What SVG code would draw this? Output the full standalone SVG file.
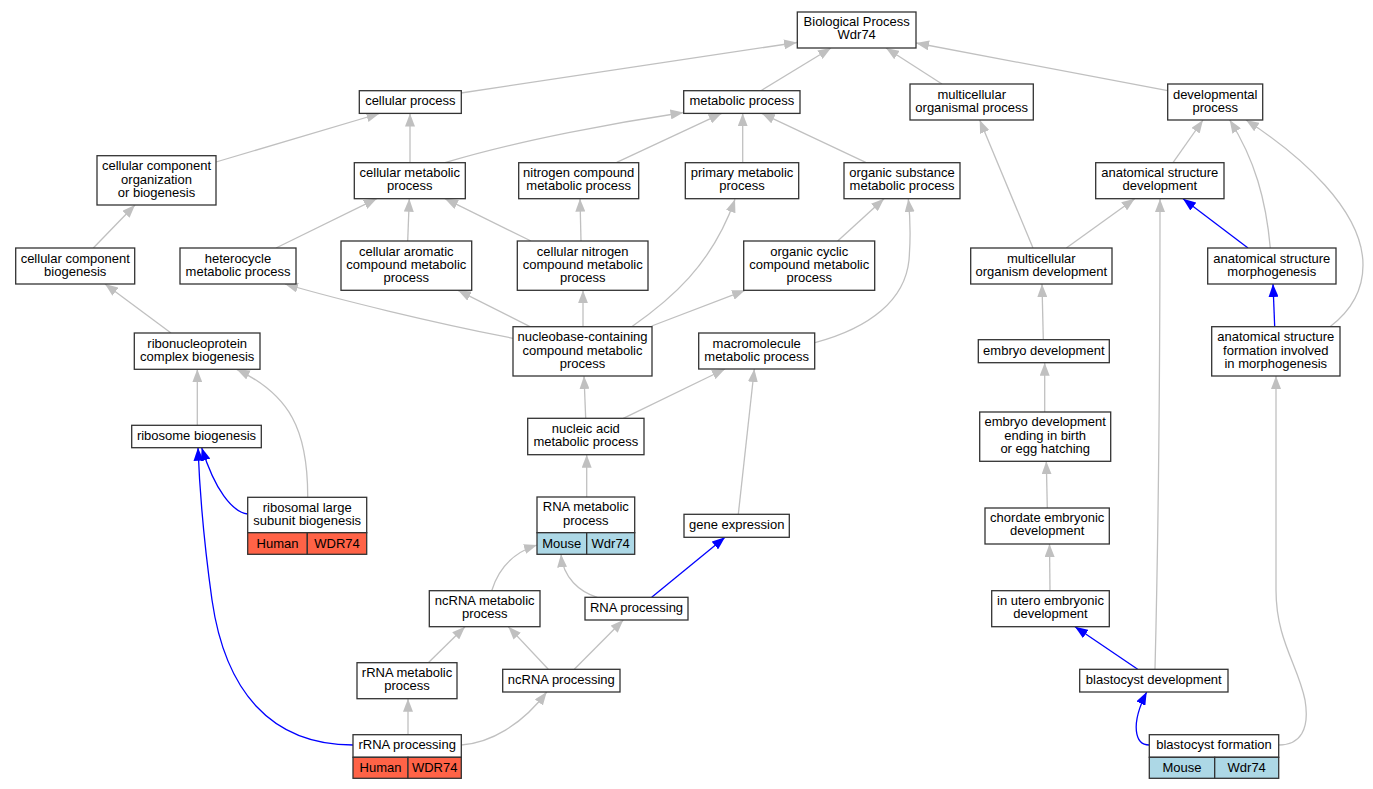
<svg xmlns="http://www.w3.org/2000/svg" width="1373" height="789" viewBox="0 0 1373 789">
<style>
.n rect{fill:#fff;stroke:#333;stroke-width:1.3}
.n rect.h{fill:#ff6347}
.n rect.m{fill:#add8e6}
text{font-family:"Liberation Sans",Arial,sans-serif;font-size:13px;fill:#000;text-anchor:middle}
.e path{fill:none;stroke:#c0c0c0;stroke-width:1.3;marker-end:url(#ag)}
.e path.b{stroke:#0000ff;marker-end:url(#ab)}
</style>
<defs>
<marker id="ag" viewBox="0 0 13 10" refX="13" refY="5" markerWidth="13" markerHeight="10" orient="auto" markerUnits="userSpaceOnUse"><path d="M0,0L13,5L0,10z" fill="#c0c0c0"/></marker>
<marker id="ab" viewBox="0 0 13 10" refX="13" refY="5" markerWidth="13" markerHeight="10" orient="auto" markerUnits="userSpaceOnUse"><path d="M0,0L13,5L0,10z" fill="#0000ff"/></marker>
</defs>
<rect width="1373" height="789" fill="#fff"/>
<g id="edges" class="e">
<path d="M461,93L797,42.5"/>
<path d="M761,90.7L831,48"/>
<path d="M942,84L886,48"/>
<path d="M1167.7,90.7L916,43"/>
<path d="M216,162L379.5,113.5"/>
<path d="M410,162.7L410,113.5"/>
<path d="M445,162.7C520,140 620,122 683.5,112.5"/>
<path d="M616.7,162.3L721.7,113.3"/>
<path d="M742.7,162.7L742.7,113.3"/>
<path d="M865.7,162.3L761.7,113.3"/>
<path d="M93.3,248L135,205"/>
<path d="M276,248L376.7,198.7"/>
<path d="M407.7,241L409.3,198.7"/>
<path d="M531,241L445,198.7"/>
<path d="M581,241L580,198.7"/>
<path d="M837.7,241L884,198.7"/>
<path d="M1033,248L979.7,120"/>
<path d="M1173,162.7L1203,120"/>
<path d="M1270.3,248C1266,200 1255,160 1229.7,120"/>
<path d="M1330,326.7C1352,310 1363,290 1363,265C1363,210 1300,155 1246,120"/>
<path d="M1066.3,248L1134.7,198.7"/>
<path d="M1155,669.3C1158,550 1160,350 1160,199"/>
<path class="b" d="M1248,248L1183,198.7"/>
<path class="b" d="M1274.7,326.7L1273,284"/>
<path d="M171,333L105,284"/>
<path d="M513,338.3C430,322 340,300 285,284"/>
<path d="M530,326.7L458,290.3"/>
<path d="M583,326.7L583,290.3"/>
<path d="M631.7,326.7C670,300 712,265 735,199.3"/>
<path d="M651.7,326L745,290.3"/>
<path d="M815,342.7C870,328 905,300 909,260C911,235 910,215 908.3,199"/>
<path d="M197.3,425.3L197.3,369.3"/>
<path d="M307.7,497.3C308,430 290,395 236.7,369.3"/>
<path class="b" d="M247.7,514C232,512 215,490 201.7,447.7"/>
<path class="b" d="M353,745C270,745 225,690 212,600C205,550 200,500 198,447.7"/>
<path d="M585.7,418.3L584,376"/>
<path d="M623.3,418.3L725,369"/>
<path d="M586.7,497L586.7,454.7"/>
<path d="M738.3,514.3L754.3,369"/>
<path d="M491.7,590.7C498,570 512,553 537,545"/>
<path d="M597.3,597.3C580,592 563,578 561,554.3"/>
<path class="b" d="M651.7,597.3L725,537.3"/>
<path d="M428.3,662.7L465,626.7"/>
<path d="M548.3,669.3L508.3,626.7"/>
<path d="M574.3,669.3L623.3,620"/>
<path d="M408,734.7L408,698.7"/>
<path d="M461.3,745C490,743 522,725 546.7,692"/>
<path d="M1043.3,339.7L1042,284"/>
<path d="M1044.7,412L1044.7,362.7"/>
<path d="M1047.3,508L1046.3,461.3"/>
<path d="M1050,590.7L1049.5,544"/>
<path class="b" d="M1137.7,669.3L1075,626.7"/>
<path class="b" d="M1149.3,745C1135,745 1130,725 1146.7,692"/>
<path d="M1278.7,745C1300,745 1310,730 1305,700C1298,665 1276,640 1276,590L1276,376"/>
</g>
<g id="bp" class="n"><rect x="797.3" y="12" width="118.7" height="36"/><text x="856.7" y="26">Biological Process</text><text x="856.7" y="39">Wdr74</text></g>
<g id="cellular_process" class="n"><rect x="359.3" y="90.7" width="102" height="22.7"/><text x="410.3" y="105.2">cellular process</text></g>
<g id="metabolic_process" class="n"><rect x="683.7" y="90.7" width="116.3" height="22.7"/><text x="741.8" y="105.2">metabolic process</text></g>
<g id="multicellular_organismal_process" class="n"><rect x="910" y="84" width="123.3" height="36"/><text x="971.7" y="98.5">multicellular</text><text x="971.7" y="111.5">organismal process</text></g>
<g id="developmental_process" class="n"><rect x="1167.7" y="84" width="95" height="36"/><text x="1215.2" y="98.5">developmental</text><text x="1215.2" y="111.5">process</text></g>
<g id="ccorg" class="n"><rect x="97" y="155.7" width="119" height="49.3"/><text x="156.5" y="170.2">cellular component</text><text x="156.5" y="183.6">organization</text><text x="156.5" y="197">or biogenesis</text></g>
<g id="cellular_metabolic_process" class="n"><rect x="354.3" y="162.7" width="111" height="36"/><text x="409.8" y="177.2">cellular metabolic</text><text x="409.8" y="190.2">process</text></g>
<g id="nitrogen_compound" class="n"><rect x="518.7" y="162.7" width="120" height="36"/><text x="578.7" y="177.2">nitrogen compound</text><text x="578.7" y="190.2">metabolic process</text></g>
<g id="primary_metabolic" class="n"><rect x="685.3" y="162.7" width="113.4" height="36"/><text x="742" y="177.2">primary metabolic</text><text x="742" y="190.2">process</text></g>
<g id="organic_substance" class="n"><rect x="844" y="162.7" width="116" height="36"/><text x="902" y="177.2">organic substance</text><text x="902" y="190.2">metabolic process</text></g>
<g id="anat_dev" class="n"><rect x="1095.7" y="162.7" width="128.3" height="36"/><text x="1159.8" y="177.2">anatomical structure</text><text x="1159.8" y="190.2">development</text></g>
<g id="ccbiog" class="n"><rect x="15.7" y="248" width="119" height="36"/><text x="75.2" y="262.5">cellular component</text><text x="75.2" y="275.5">biogenesis</text></g>
<g id="heterocycle" class="n"><rect x="180" y="248" width="116" height="36"/><text x="238" y="262.5">heterocycle</text><text x="238" y="275.5">metabolic process</text></g>
<g id="aromatic" class="n"><rect x="341" y="241" width="130.7" height="49.3"/><text x="406.3" y="255.5">cellular aromatic</text><text x="406.3" y="268.9">compound metabolic</text><text x="406.3" y="282.3">process</text></g>
<g id="cell_nitrogen" class="n"><rect x="517.3" y="241" width="130.7" height="49.3"/><text x="582.7" y="255.5">cellular nitrogen</text><text x="582.7" y="268.9">compound metabolic</text><text x="582.7" y="282.3">process</text></g>
<g id="organic_cyclic" class="n"><rect x="743.7" y="241" width="131" height="49.3"/><text x="809.2" y="255.5">organic cyclic</text><text x="809.2" y="268.9">compound metabolic</text><text x="809.2" y="282.3">process</text></g>
<g id="mc_org_dev" class="n"><rect x="970.7" y="248" width="141.3" height="36"/><text x="1041.3" y="262.5">multicellular</text><text x="1041.3" y="275.5">organism development</text></g>
<g id="anat_morph" class="n"><rect x="1207.7" y="248" width="128.3" height="36"/><text x="1271.8" y="262.5">anatomical structure</text><text x="1271.8" y="275.5">morphogenesis</text></g>
<g id="ribonucleo" class="n"><rect x="134.3" y="333" width="125.7" height="36.3"/><text x="197.2" y="347.5">ribonucleoprotein</text><text x="197.2" y="360.7">complex biogenesis</text></g>
<g id="nucleobase" class="n"><rect x="513" y="326.7" width="139" height="49.3"/><text x="582.5" y="341.2">nucleobase-containing</text><text x="582.5" y="354.6">compound metabolic</text><text x="582.5" y="368">process</text></g>
<g id="macromolecule" class="n"><rect x="698.7" y="333" width="116" height="36"/><text x="756.7" y="347.5">macromolecule</text><text x="756.7" y="360.7">metabolic process</text></g>
<g id="embryo_dev" class="n"><rect x="978.3" y="339.7" width="131" height="23"/><text x="1043.8" y="354.5">embryo development</text></g>
<g id="anat_form" class="n"><rect x="1211.7" y="326.7" width="128.3" height="49.3"/><text x="1275.8" y="341.2">anatomical structure</text><text x="1275.8" y="354.6">formation involved</text><text x="1275.8" y="368">in morphogenesis</text></g>
<g id="ribosome_biog" class="n"><rect x="131.7" y="425.3" width="129.6" height="22.4"/><text x="196.5" y="439.6">ribosome biogenesis</text></g>
<g id="nucleic_acid" class="n"><rect x="527.7" y="418.3" width="116.3" height="36.4"/><text x="585.8" y="432.8">nucleic acid</text><text x="585.8" y="446">metabolic process</text></g>
<g id="embryo_ending" class="n"><rect x="979.7" y="412" width="131" height="49.3"/><text x="1045.2" y="426.3">embryo development</text><text x="1045.2" y="439.6">ending in birth</text><text x="1045.2" y="453">or egg hatching</text></g>
<g id="ribo_large" class="n"><rect x="247.7" y="497.3" width="119" height="35.4"/><rect class="h" x="247.7" y="532.7" width="59.6" height="21.6"/><rect class="h" x="307.3" y="532.7" width="59.4" height="21.6"/><text x="307.2" y="511.6">ribosomal large</text><text x="307.2" y="524.8">subunit biogenesis</text><text x="277.5" y="548">Human</text><text x="337" y="548">WDR74</text></g>
<g id="rna_metabolic" class="n"><rect x="537" y="497" width="97.7" height="35.7"/><rect class="m" x="537" y="532.7" width="49.7" height="21.6"/><rect class="m" x="586.7" y="532.7" width="48" height="21.6"/><text x="585.8" y="511.3">RNA metabolic</text><text x="585.8" y="524.8">process</text><text x="561.8" y="548">Mouse</text><text x="610.7" y="548">Wdr74</text></g>
<g id="gene_expression" class="n"><rect x="684" y="514.3" width="105.3" height="23"/><text x="736.7" y="529.2">gene expression</text></g>
<g id="chordate" class="n"><rect x="985" y="508" width="124.3" height="36"/><text x="1047.2" y="522.3">chordate embryonic</text><text x="1047.2" y="534.8">development</text></g>
<g id="ncrna_metabolic" class="n"><rect x="429.3" y="590.7" width="110.7" height="36"/><text x="484.7" y="605.2">ncRNA metabolic</text><text x="484.7" y="618">process</text></g>
<g id="rna_processing" class="n"><rect x="585" y="597.3" width="103" height="22.7"/><text x="636.5" y="611.8">RNA processing</text></g>
<g id="in_utero" class="n"><rect x="991.7" y="590.7" width="117.6" height="36"/><text x="1050.5" y="605.2">in utero embryonic</text><text x="1050.5" y="618">development</text></g>
<g id="rrna_metabolic" class="n"><rect x="357" y="662.7" width="100" height="36"/><text x="407" y="677.2">rRNA metabolic</text><text x="407" y="690.2">process</text></g>
<g id="ncrna_processing" class="n"><rect x="502.7" y="669.3" width="117.3" height="22.7"/><text x="561.3" y="683.6">ncRNA processing</text></g>
<g id="blastocyst_dev" class="n"><rect x="1079.7" y="669.3" width="148.3" height="22.7"/><text x="1153.8" y="683.6">blastocyst development</text></g>
<g id="rrna_processing" class="n"><rect x="353" y="734.7" width="108.3" height="22.6"/><rect class="h" x="353" y="757.3" width="55" height="21"/><rect class="h" x="408" y="757.3" width="53.3" height="21"/><text x="407.2" y="749.2">rRNA processing</text><text x="380.5" y="771.5">Human</text><text x="434.7" y="771.5">WDR74</text></g>
<g id="blastocyst_form" class="n"><rect x="1149.3" y="734.7" width="129.4" height="22.6"/><rect class="m" x="1149.3" y="757.3" width="65.4" height="21"/><rect class="m" x="1214.7" y="757.3" width="64" height="21"/><text x="1214" y="749.2">blastocyst formation</text><text x="1182" y="771.5">Mouse</text><text x="1246.7" y="771.5">Wdr74</text></g>
</svg>
